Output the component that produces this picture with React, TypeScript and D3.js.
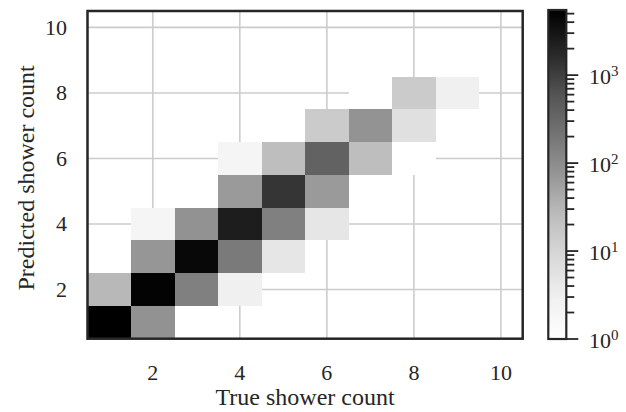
import React from 'react';
import * as d3 from 'd3';

// confusion counts: true vs predicted shower count
const trueCount = [1, 2, 1, 2, 3, 4, 2, 3, 4, 5, 2, 3, 4, 5, 6, 4, 5, 6, 4, 5, 6, 7, 8, 6, 7, 8, 7, 8, 9];
const predCount = [1, 1, 2, 2, 2, 2, 3, 3, 3, 3, 4, 4, 4, 4, 4, 5, 5, 5, 6, 6, 6, 6, 6, 7, 7, 7, 8, 8, 8];
const counts = [5500, 84, 29, 5000, 146, 2.9, 74, 4300, 175, 4.7, 2.0, 84, 2400, 146, 4.7, 66, 1280, 66, 2.0, 24, 377, 24, 1, 14.7, 81, 6.2, 1, 14.7, 2.9];

const axisTicks = [2, 4, 6, 8, 10];
const cbarMajor = [1, 10, 100, 1000];
const cbarMinor = [2, 3, 4, 5, 6, 7, 8, 9, 20, 30, 40, 50, 60, 70, 80, 90, 200, 300, 400, 500, 600, 700, 800, 900, 2000, 3000, 4000, 5000];
const cbarMax = 5500;

// matplotlib "Greys"
const greys = ['#ffffff', '#f0f0f0', '#d9d9d9', '#bdbdbd', '#969696', '#737373', '#525252', '#252525', '#000000'];

const W = 626, H = 412;
const plot = { left: 87.5, right: 522.7, top: 11, bottom: 338.7 };
const cbar = { left: 548.3, right: 566.3, top: 10, bottom: 339 };
const ink = '#262626';
const font = '"Liberation Serif", "Times New Roman", serif';

export default function App() {
  const x = d3.scaleLinear().domain([0.5, 10.5]).range([plot.left, plot.right]);
  const y = d3.scaleLinear().domain([0.5, 10.5]).range([plot.bottom, plot.top]);
  const interp = d3.piecewise(d3.interpolateRgb, greys);
  const color = d3.scaleSequentialLog(interp).domain([1, cbarMax]);
  const cy = d3.scaleLog().domain([1, cbarMax]).range([cbar.bottom, cbar.top]);

  const stops = d3.range(0, 1.0001, 0.02);

  return (
    <svg width={W} height={H} style={{ position: 'absolute', left: 0, top: 0, background: '#fff' }}
      fontFamily={font}>
      <defs>
        <linearGradient id="cbgrad" x1="0" y1="1" x2="0" y2="0">
          {stops.map((t, i) => (
            <stop key={i} offset={t} stopColor={interp(t)} />
          ))}
        </linearGradient>
      </defs>

      {/* grid */}
      <g stroke="#cccccc" strokeWidth={1.6}>
        {axisTicks.map(t => (
          <line key={'gx' + t} x1={x(t)} x2={x(t)} y1={plot.top} y2={plot.bottom} />
        ))}
        {axisTicks.map(t => (
          <line key={'gy' + t} x1={plot.left} x2={plot.right} y1={y(t)} y2={y(t)} />
        ))}
      </g>

      {/* histogram cells */}
      <g shapeRendering="crispEdges">
        {counts.map((c, i) => (
          <rect key={i}
            x={x(trueCount[i] - 0.5)} y={y(predCount[i] + 0.5)}
            width={x(trueCount[i] + 0.5) - x(trueCount[i] - 0.5)}
            height={y(predCount[i] - 0.5) - y(predCount[i] + 0.5)}
            fill={color(c)} />
        ))}
      </g>

      <rect x={plot.left} y={plot.top} width={plot.right - plot.left} height={plot.bottom - plot.top}
        fill="none" stroke={ink} strokeWidth={2.5} />

      {/* tick labels */}
      <g fontSize={22} fill={ink}>
        {axisTicks.map(t => (
          <text key={'tx' + t} x={x(t)} y={380} textAnchor="middle">{t}</text>
        ))}
        {axisTicks.map(t => (
          <text key={'ty' + t} x={67} y={y(t)} dy="0.34em" textAnchor="end">{t}</text>
        ))}
      </g>

      <text x={(plot.left + plot.right) / 2} y={405} textAnchor="middle" fontSize={24} fill={ink}>
        True shower count
      </text>
      <text transform={`translate(34,${(plot.top + plot.bottom) / 2 + 3}) rotate(-90)`} textAnchor="middle"
        fontSize={24} fill={ink}>
        Predicted shower count
      </text>

      {/* colorbar */}
      <rect x={cbar.left} y={cbar.top} width={cbar.right - cbar.left} height={cbar.bottom - cbar.top}
        fill="url(#cbgrad)" stroke={ink} strokeWidth={2.2} />
      <g stroke={ink} strokeWidth={1.8}>
        {cbarMajor.map(t => (
          <line key={'cM' + t} x1={cbar.right} x2={cbar.right + 12} y1={cy(t)} y2={cy(t)} />
        ))}
        {cbarMinor.map(t => (
          <line key={'cm' + t} x1={cbar.right} x2={cbar.right + 8} y1={cy(t)} y2={cy(t)} />
        ))}
      </g>
      <g fill={ink}>
        {cbarMajor.map(t => (
          <text key={'cl' + t} x={589} y={cy(t)} dy="0.4em" fontSize={22}>
            10<tspan dy="-0.55em" fontSize={15}>{Math.round(Math.log10(t))}</tspan>
          </text>
        ))}
      </g>
    </svg>
  );
}
